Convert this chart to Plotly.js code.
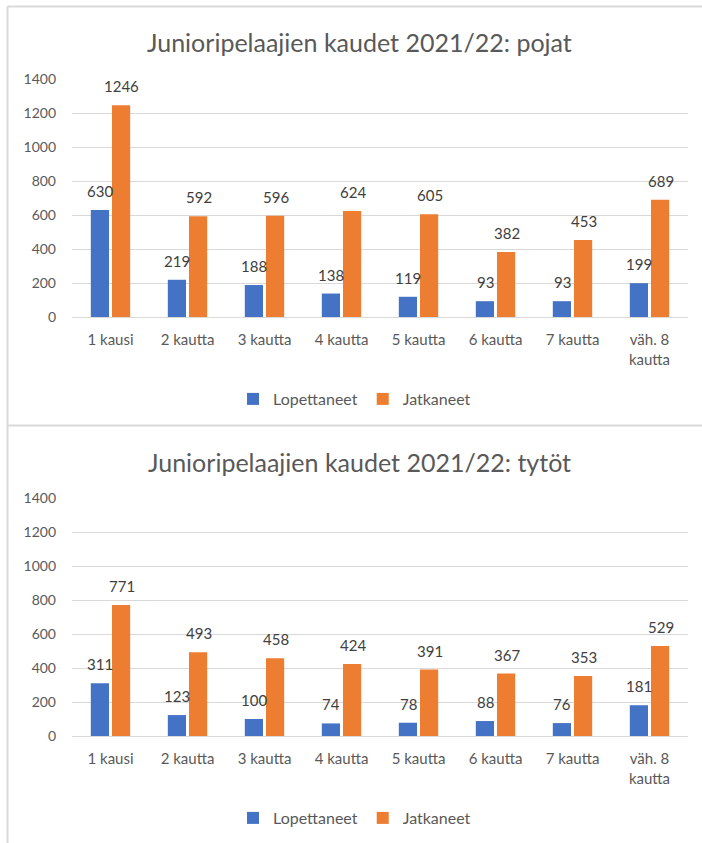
<!DOCTYPE html>
<html><head><meta charset="utf-8">
<script src="https://cdn.plot.ly/plotly-3.0.1.min.js"></script>
<style>html,body{margin:0;padding:0;background:#fff}#c{width:702px;height:843px}</style>
</head><body><div id="c"></div>
<script>
const categories = ["1 kausi","2 kautta","3 kautta","4 kautta","5 kautta","6 kautta","7 kautta","väh. 8<br>kautta"];
const seriesNames = ["Lopettaneet","Jatkaneet"];
const titles = ["Junioripelaajien kaudet 2021/22: pojat","Junioripelaajien kaudet 2021/22: tytöt"];
const boysStopped = [630,219,188,138,119,93,93,199];
const boysContinued = [1246,592,596,624,605,382,453,689];
const girlsStopped = [311,123,100,74,78,88,76,181];
const girlsContinued = [771,493,458,424,391,367,353,529];
const yTicks = [0,200,400,600,800,1000,1200,1400];

const H = 843, W = 702;
const py = p => 1 - p / H;
const px = p => p / W;
const FONT = "Lato, 'Open Sans', sans-serif";
const blue = "#4472c4", orange = "#ed7d31";

function bar(vals, name, color, xa, ya, leg) {
  return {type:"bar", x:categories, y:vals, name:name, xaxis:xa, yaxis:ya, legend:leg,
    marker:{color:color}, hoverinfo:"x+y"};
}
const data = [
  bar(boysStopped, seriesNames[0], blue, "x", "y", "legend"),
  bar(boysContinued, seriesNames[1], orange, "x", "y", "legend"),
  bar(girlsStopped, seriesNames[0], blue, "x2", "y2", "legend2"),
  bar(girlsContinued, seriesNames[1], orange, "x2", "y2", "legend2")
];
function labels(vals, xa, ya, shift) {
  return vals.map((v, i) => ({text:String(v), x:categories[i], y:v, xref:xa, yref:ya, xshift:shift, yshift:19,
    xanchor:"center", yanchor:"middle", showarrow:false, font:{family:FONT, size:15, color:"#404040"}}));
}
const xax = (anchor) => ({domain:[px(72), px(688)], anchor:anchor, showgrid:false, showline:false, zeroline:false,
  ticks:"", tickfont:{family:FONT, size:15, color:"#595959"}, ticklabelstandoff:12, fixedrange:true});
const yax = (dom, anchor) => ({domain:dom, anchor:anchor, range:[0,1400], tickvals:yTicks, ticktext:yTicks.map(String),
  showgrid:true, gridcolor:"#d9d9d9", gridwidth:1, zeroline:true, zerolinecolor:"#d9d9d9", zerolinewidth:1,
  showline:false, ticks:"", tickfont:{family:FONT, size:14, color:"#595959"}, ticklabelstandoff:15, fixedrange:true});
const legendCfg = (y) => ({orientation:"h", x:0.505, xanchor:"center", y:y, yanchor:"middle",
  font:{family:FONT, size:16, color:"#595959"}, itemwidth:30, traceorder:"normal", bgcolor:"rgba(0,0,0,0)"});
const layout = {
  width:W, height:H, margin:{l:0,r:0,t:0,b:0}, paper_bgcolor:"#fff", plot_bgcolor:"#fff",
  barmode:"group", bargap:0.45, bargroupgap:0.14, showlegend:true,
  font:{family:FONT, color:"#595959"},
  xaxis: xax("y"), yaxis: yax([py(317), py(79)], "x"),
  xaxis2: xax("y2"), yaxis2: yax([py(736), py(498)], "x2"),
  legend: legendCfg(py(399)), legend2: legendCfg(py(818)),
  annotations:[
    {text:titles[0], xref:"paper", yref:"paper", x:px(359), y:py(42), xanchor:"center", yanchor:"middle", showarrow:false,
     font:{family:FONT, size:25, color:"#595959"}},
    {text:titles[1], xref:"paper", yref:"paper", x:px(359), y:py(462), xanchor:"center", yanchor:"middle", showarrow:false,
     font:{family:FONT, size:25, color:"#595959"}}
  ].concat(labels(boysStopped, "x", "y", -10.5), labels(boysContinued, "x", "y", 11),
           labels(girlsStopped, "x2", "y2", -10.5), labels(girlsContinued, "x2", "y2", 11)),
  shapes:[
    {type:"line", xref:"paper", yref:"paper", x0:px(7.5), x1:1, y0:py(6.5), y1:py(6.5), line:{color:"#d9d9d9", width:2}},
    {type:"line", xref:"paper", yref:"paper", x0:px(7.5), x1:px(7.5), y0:py(6.5), y1:0, line:{color:"#d9d9d9", width:2}},
    {type:"line", xref:"paper", yref:"paper", x0:px(7.5), x1:1, y0:py(425.5), y1:py(425.5), line:{color:"#d9d9d9", width:2}}
  ]
};
Plotly.newPlot("c", data, layout, {displayModeBar:false, staticPlot:true});
</script></body></html>
